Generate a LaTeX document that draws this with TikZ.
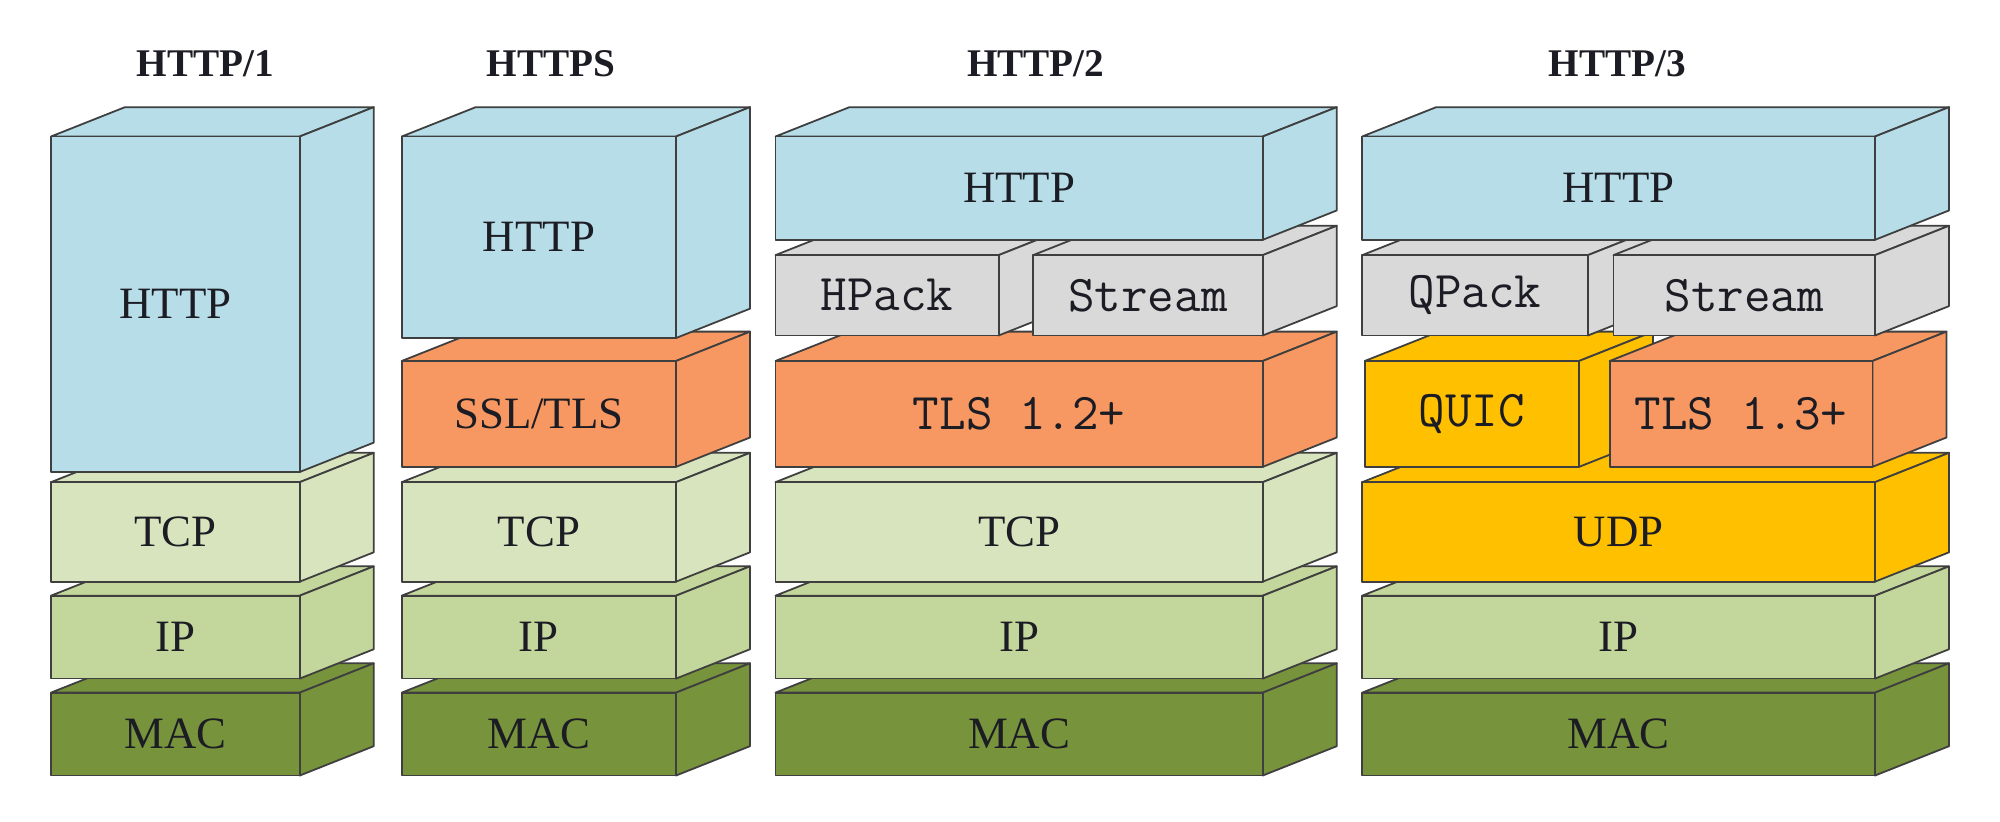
\documentclass[tikz,border=0pt]{standalone}
\usepackage{fontspec}
\setmainfont{Liberation Serif}
\usepackage{tikz}

\definecolor{httpblue}{HTML}{B7DEE8}
\definecolor{packgray}{HTML}{D9D9D9}
\definecolor{tlsorange}{HTML}{F79862}
\definecolor{quicyellow}{HTML}{FFC000}
\definecolor{tcpgreen}{HTML}{D7E4BD}
\definecolor{ipgreen}{HTML}{C3D69B}
\definecolor{macgreen}{HTML}{77933C}
\definecolor{edgegray}{HTML}{3F3F3F}
\definecolor{labeltext}{HTML}{1C1C24}

\tikzset{
  face/.style={draw=edgegray, line width=0.8pt, line join=round},
  lbl/.style={font=\fontsize{20}{22}\selectfont, text=labeltext},
  monolbl/.style={font=\ttfamily\fontsize{23}{25}\selectfont, text=labeltext},
  title/.style={font=\bfseries\fontsize{17.5}{20}\selectfont, text=labeltext}
}

% one layer: name, front x1, top y1, x2, bottom y2, fill, text, label style
\newcommand{\stacklayer}[8]{%
  \filldraw[face, fill=#6] (#2,#3) -- (#2+58,#3-23) -- (#4+58,#3-23) -- (#4,#3) -- cycle;
  \filldraw[face, fill=#6] (#4,#3) -- (#4+58,#3-23) -- (#4+58,#5-23) -- (#4,#5) -- cycle;
  \filldraw[face, fill=#6] (#2,#3) rectangle (#4,#5);
  \node[#8] (#1) at ({(#2+#4)/2},{(#3+#5)/2}) {#7};
}

\begin{document}
\begin{tikzpicture}[x=0.2mm, y=-0.2mm]
    \useasboundingbox (0,0) rectangle (1568,644);

    % HTTP/1
    \node[title] (title1) at (161,50) {HTTP/1};
    \stacklayer{mac1}{40}{543}{235}{608}{macgreen}{MAC}{lbl}
    \stacklayer{ip1}{40}{467}{235}{532}{ipgreen}{IP}{lbl}
    \stacklayer{tcp1}{40}{378}{235}{456}{tcpgreen}{TCP}{lbl}
    \stacklayer{http1}{40}{107}{235}{370}{httpblue}{HTTP}{lbl}

    % HTTPS
    \node[title] (title2) at (432,50) {HTTPS};
    \stacklayer{mac2}{315}{543}{530}{608}{macgreen}{MAC}{lbl}
    \stacklayer{ip2}{315}{467}{530}{532}{ipgreen}{IP}{lbl}
    \stacklayer{tcp2}{315}{378}{530}{456}{tcpgreen}{TCP}{lbl}
    \stacklayer{ssl2}{315}{283}{530}{366}{tlsorange}{SSL/TLS}{lbl}
    \stacklayer{http2}{315}{107}{530}{265}{httpblue}{HTTP}{lbl}

    % HTTP/2
    \node[title] (title3) at (812,50) {HTTP/2};
    \stacklayer{mac3}{608}{543}{990}{608}{macgreen}{MAC}{lbl}
    \stacklayer{ip3}{608}{467}{990}{532}{ipgreen}{IP}{lbl}
    \stacklayer{tcp3}{608}{378}{990}{456}{tcpgreen}{TCP}{lbl}
    \stacklayer{tls3}{608}{283}{990}{366}{tlsorange}{TLS 1.2+}{monolbl}
    \stacklayer{hpack3}{608}{200}{783}{263}{packgray}{HPack}{monolbl}
    \stacklayer{stream3}{810}{200}{990}{263}{packgray}{Stream}{monolbl}
    \stacklayer{http3}{608}{107}{990}{188}{httpblue}{HTTP}{lbl}

    % HTTP/3
    \node[title] (title4) at (1268,50) {HTTP/3};
    \stacklayer{mac4}{1068}{543}{1470}{608}{macgreen}{MAC}{lbl}
    \stacklayer{ip4}{1068}{467}{1470}{532}{ipgreen}{IP}{lbl}
    \stacklayer{udp4}{1068}{378}{1470}{456}{quicyellow}{UDP}{lbl}
    \stacklayer{quic4}{1070}{283}{1238}{366}{quicyellow}{QUIC}{monolbl}
    \stacklayer{tls4}{1262}{283}{1468}{366}{tlsorange}{TLS 1.3+}{monolbl}
    \stacklayer{qpack4}{1068}{200}{1245}{263}{packgray}{QPack}{monolbl}
    \stacklayer{stream4}{1265}{200}{1470}{263}{packgray}{Stream}{monolbl}
    \stacklayer{http4}{1068}{107}{1470}{188}{httpblue}{HTTP}{lbl}
  \end{tikzpicture}
\end{document}
